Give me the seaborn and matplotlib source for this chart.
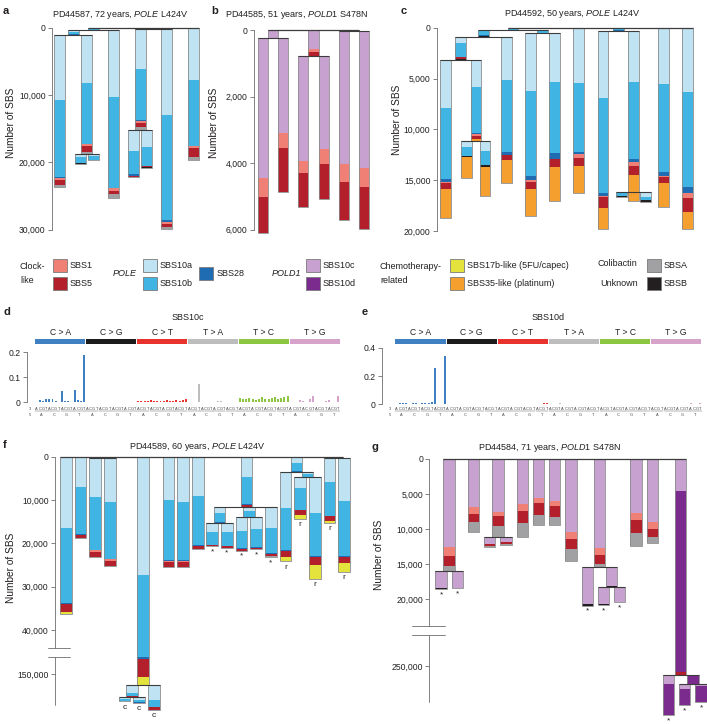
import numpy as np
import pandas as pd
import matplotlib
matplotlib.use("Agg")
import matplotlib.pyplot as plt
from matplotlib.patches import Rectangle
from matplotlib.lines import Line2D
import seaborn as sns

sns.set_theme(style="ticks")
plt.rcParams["font.family"] = ["Liberation Sans", "DejaVu Sans"]
plt.rcParams["mathtext.fontset"] = "custom"
plt.rcParams["mathtext.rm"] = "Liberation Sans"
plt.rcParams["mathtext.it"] = "Liberation Sans:italic"

# ------------------------------------------------------------------ data
SIG_ORDER = ["SBS10a", "SBS10c", "SBS10b", "SBS10d", "SBS28", "SBS1", "SBS5",
             "SBSA", "SBSB", "SBS17b", "SBS35"]
SIG_COLORS = {"SBS1": "#f07f76", "SBS5": "#b31f2b", "SBS10a": "#bfe3f3",
              "SBS10b": "#40b5e4", "SBS28": "#1f6cb2", "SBS10c": "#c7a1cf",
              "SBS10d": "#7b2b8d", "SBS17b": "#e4e23c", "SBS35": "#f5a02e",
              "SBSA": "#a1a1a3", "SBSB": "#231f20"}

# panel a : PD44587
A_NODES = ["X", "A", "a1", "a2", "a2a", "a2b", "a3", "Y", "a4", "a4a", "a4b", "a5", "a6"]
A_PARENTS = [None, "X", "A", "A", "a2", "a2", "X", None, "Y", "a4", "a4", "Y", None]
A_EXPO = {
    "SBS10a": [200, 300, 9700, 7090, 500, 300, 10070, 150, 5900, 3120, 2480, 12650, 7800],
    "SBS10b": [100, 400, 11430, 9030, 840, 600, 13500, 0, 7600, 3420, 2830, 15700, 9770],
    "SBS28":  [0, 100, 100, 100, 100, 60, 0, 100, 100, 250, 0, 200, 0],
    "SBS1":   [0, 0, 300, 250, 0, 0, 350, 0, 250, 0, 0, 300, 300],
    "SBS5":   [0, 0, 740, 890, 0, 0, 550, 0, 600, 150, 250, 500, 1340],
    "SBSA":   [0, 0, 350, 250, 0, 0, 600, 0, 500, 0, 0, 300, 500],
    "SBSB":   [0, 0, 0, 0, 50, 40, 0, 0, 0, 100, 100, 0, 0],
}

# panel b : PD44585
B_NODES = ["P", "b1", "b2", "Q", "b3", "b4", "R", "b5", "b6"]
B_PARENTS = [None, "P", "P", None, "Q", "Q", None, "R", "R"]
B_EXPO = {
    "SBS10c": [230, 4180, 2850, 580, 3150, 2800, 40, 3990, 4110],
    "SBS1":   [0, 600, 450, 70, 370, 440, 0, 520, 550],
    "SBS5":   [20, 1070, 1300, 130, 1020, 1060, 0, 1170, 1280],
}

# panel c : PD44592
C_NODES = ["Q", "P2", "P3", "c1", "c2", "c2a", "c2b", "c3", "P4", "c4", "c5", "c6",
           "R", "c7", "c8", "c8a", "c8m", "c8b", "c9", "c10"]
C_PARENTS = [None, "Q", "P2", "P3", "P3", "c2", "c2", "P2", "Q", "P4", "P4", None,
             None, "R", "R", "c8", "c8", "c8", None, None]
C_EXPO = {
    "SBS10a": [80, 150, 656, 4750, 2690, 650, 1020, 4260, 100, 5670, 4750, 5475, 0, 6650, 5020, 100, 0, 430, 5570, 6360],
    "SBS10b": [100, 330, 1377, 6950, 4460, 820, 1380, 7050, 200, 8330, 7050, 6725, 200, 9340, 7640, 230, 0, 330, 8590, 9340],
    "SBS28":  [20, 155, 0, 260, 160, 0, 0, 330, 57, 430, 590, 230, 95, 260, 300, 0, 0, 0, 390, 530],
    "SBS1":   [0, 0, 0, 100, 160, 0, 0, 0, 0, 160, 0, 420, 0, 130, 330, 0, 0, 0, 160, 560],
    "SBS5":   [0, 0, 197, 660, 330, 0, 0, 490, 0, 750, 720, 760, 0, 1080, 920, 0, 0, 0, 590, 1310],
    "SBSB":   [0, 50, 65, 0, 0, 160, 160, 0, 0, 0, 0, 0, 0, 0, 0, 100, 0, 160, 0, 0],
    "SBS35":  [0, 0, 0, 2850, 130, 2070, 2890, 2290, 0, 2590, 3380, 2620, 0, 2080, 1700, 0, 850, 0, 2360, 1700],
}

# panel f : PD44589
F_NODES = ["f1", "f2", "N34", "f3", "f4", "f5", "F5a", "ca", "cb", "cc", "f6", "f7", "f8",
           "f9", "G1", "g1a", "g1b", "G2", "g2a", "g2b", "g3", "H", "f10", "H2", "f11",
           "f12", "K", "f13", "f14"]
F_PARENTS = [None, None, None, "N34", "N34", None, "f5", "F5a", "F5a", "f5", None, None, None,
             None, "f9", "G1", "G1", "f9", "G2", "G2", "f9", None, "H", "H", "H2",
             "H2", None, "K", "K"]
F_EXPO = {
    "SBS10a": [16540, 7080, 100, 9180, 10180, 27300, 1920, 400, 600, 3460, 10000, 10380, 9000,
               4770, 1380, 2080, 2080, 850, 3080, 2770, 4850, 1380, 8150, 460, 2540,
               8310, 200, 5380, 9770],
    "SBS10b": [17310, 10770, 0, 12160, 13310, 118700, 600, 400, 500, 1540, 13800, 13470, 11380,
               6150, 1920, 3080, 3310, 1460, 4080, 4150, 5770, 1920, 9770, 540, 5000,
               9770, 0, 7850, 12690],
    "SBS28":  [230, 230, 100, 0, 0, 500, 0, 100, 100, 0, 300, 300, 300,
               230, 230, 100, 100, 0, 100, 100, 230, 300, 200, 0, 100,
               300, 200, 150, 300],
    "SBS1":   [0, 0, 0, 380, 300, 0, 0, 0, 0, 0, 200, 200, 0,
               0, 0, 0, 0, 0, 0, 0, 0, 0, 0, 0, 0,
               0, 0, 0, 0],
    "SBS5":   [1700, 770, 0, 1310, 1160, 4100, 300, 50, 50, 770, 1100, 1100, 700,
               550, 0, 230, 300, 0, 440, 280, 380, 0, 1380, 170, 1000,
               1920, 0, 1000, 1460],
    "SBSA":   [0, 0, 0, 0, 0, 0, 0, 0, 0, 0, 0, 0, 0,
               0, 0, 0, 0, 0, 0, 0, 300, 0, 0, 0, 0,
               0, 0, 0, 0],
    "SBS17b": [600, 0, 0, 0, 0, 1900, 0, 0, 0, 0, 0, 0, 0,
               0, 0, 0, 0, 0, 0, 0, 0, 0, 1080, 0, 920,
               3080, 0, 540, 1920],
}
F_MARKS = {"ca": "c", "cb": "c", "cc": "c", "g1a": "*", "g1b": "*", "g2a": "*",
           "g2b": "*", "g3": "*", "f10": "r", "f11": "r", "f12": "r", "f13": "r", "f14": "r"}

# panel g : PD44584
G_NODES = ["g1", "g1a", "g1b", "g2", "g3", "g3a", "g3b", "g4", "g5", "g6", "g7", "g8",
           "g8a", "G8n", "g8b", "g8c", "g9", "g10", "g11", "g11a", "G11n", "g11b", "g11c"]
G_PARENTS = [None, "g1", "g1", None, None, "g3", "g3", None, None, None, None, None,
             "g8", "g8", "G8n", "G8n", None, None, None, "g11", "g11", "G11n", "G11n"]
G_EXPO = {
    "SBS10c": [12620, 2480, 2380, 6900, 7520, 1090, 710, 6480, 5620, 5950, 10380, 12670,
               5380, 2760, 2430, 2190, 7760, 9050, 4570, 1280, 0, 720, 290],
    "SBS10d": [0, 0, 0, 0, 0, 0, 0, 0, 0, 0, 0, 0,
               0, 0, 0, 0, 0, 0, 246240, 4430, 1280, 2280, 2330],
    "SBS1":   [1190, 0, 0, 1000, 620, 0, 0, 900, 620, 760, 1100, 1040,
               0, 0, 0, 0, 950, 950, 0, 0, 0, 0, 0],
    "SBS5":   [1430, 0, 0, 1050, 1430, 290, 330, 1720, 1760, 1530, 1420, 1290,
               0, 0, 0, 0, 1810, 1100, 480, 0, 0, 0, 0],
    "SBSA":   [760, 0, 0, 1430, 1530, 140, 150, 2000, 1430, 1190, 1670, 380,
               0, 0, 0, 0, 1860, 950, 0, 0, 0, 0, 0],
    "SBSB":   [0, 90, 100, 0, 0, 0, 0, 0, 0, 0, 0, 0,
               190, 150, 140, 0, 0, 0, 0, 0, 0, 0, 0],
}
G_MARKS = {"g1a": "*", "g1b": "*", "g8a": "*", "g8b": "*", "g8c": "*",
           "g11a": "*", "g11b": "*", "g11c": "*"}

# mutational spectra (96 channels: class x 5' base x 3' base)
MUT_CLASSES = ["C > A", "C > G", "C > T", "T > A", "T > C", "T > G"]
CLASS_COLORS = ["#3f80c2", "#1c1c1c", "#e8322c", "#bdbdbd", "#8dc641", "#d8a3cb"]
BASES = ["A", "C", "G", "T"]
SBS10C_SPECTRUM = (
    [0.003, 0.008, 0.004, 0.012, 0.012, 0.014, 0.005, 0.003, 0.045, 0.006, 0.005, 0.002, 0.048, 0.010, 0.006, 0.190]
    + [0.001, 0.000, 0.001, 0.001, 0.000, 0.001, 0.000, 0.001, 0.001, 0.000, 0.001, 0.000, 0.001, 0.001, 0.000, 0.001]
    + [0.006, 0.004, 0.007, 0.005, 0.008, 0.006, 0.005, 0.007, 0.006, 0.008, 0.007, 0.006, 0.009, 0.007, 0.008, 0.012]
    + [0.002, 0.003, 0.002, 0.072, 0.001, 0.002, 0.003, 0.001, 0.002, 0.006, 0.004, 0.002, 0.001, 0.002, 0.003, 0.002]
    + [0.016, 0.012, 0.014, 0.018, 0.013, 0.011, 0.015, 0.020, 0.014, 0.012, 0.016, 0.022, 0.015, 0.018, 0.020, 0.024]
    + [0.001, 0.002, 0.003, 0.008, 0.007, 0.002, 0.012, 0.025, 0.001, 0.002, 0.003, 0.006, 0.008, 0.001, 0.002, 0.026]
)
SBS10D_SPECTRUM = (
    [0.005, 0.012, 0.006, 0.010, 0.004, 0.008, 0.006, 0.005, 0.010, 0.006, 0.012, 0.015, 0.260, 0.004, 0.003, 0.340]
    + [0.000, 0.001, 0.000, 0.000, 0.001, 0.000, 0.000, 0.001, 0.000, 0.000, 0.001, 0.000, 0.000, 0.001, 0.000, 0.000]
    + [0.002, 0.001, 0.002, 0.003, 0.002, 0.003, 0.002, 0.004, 0.003, 0.002, 0.004, 0.003, 0.004, 0.005, 0.006, 0.007]
    + [0.001, 0.002, 0.001, 0.010, 0.001, 0.001, 0.002, 0.001, 0.001, 0.004, 0.002, 0.001, 0.001, 0.001, 0.002, 0.001]
    + [0.002, 0.003, 0.002, 0.004, 0.003, 0.002, 0.003, 0.005, 0.002, 0.003, 0.004, 0.003, 0.002, 0.004, 0.003, 0.005]
    + [0.001, 0.002, 0.001, 0.002, 0.003, 0.001, 0.002, 0.003, 0.001, 0.001, 0.002, 0.001, 0.012, 0.001, 0.002, 0.009]
)

# ------------------------------------------------------------------ figure
W, H = 707, 724
fig = plt.figure(figsize=(W / 100, H / 100), dpi=100)
fig.patch.set_facecolor("white")
INK = "#231f20"
OUTLINE = "#8a8a8a"
LINK = "#3c3c3c"
AXC = "#6d6d6d"


def fx(px):
    return px / W


def fy(py):
    return 1 - py / H


def make_axes(x0, x1, y0, y1):
    ax = fig.add_axes([fx(x0), fy(y1), (x1 - x0) / W, (y1 - y0) / H])
    ax.patch.set_visible(False)
    return ax


def ftext(x, y, s, **kw):
    kw.setdefault("fontsize", 6.5)
    kw.setdefault("color", INK)
    return fig.text(fx(x), fy(y), s, **kw)


def make_break(b1, b2, gap):
    def f(v):
        v = float(v)
        if v <= b1:
            return v
        if v >= b2:
            return v - b2 + b1 + gap
        return b1 + (v - b1) / (b2 - b1) * gap
    return f


def ident(v):
    return float(v)


def draw_tree(ax, nodes, parents, expo, compact, marks, fwd, bar_w, comp_w):
    children = {n: [] for n in nodes}
    roots = []
    for n, p in zip(nodes, parents):
        if p is None:
            roots.append(n)
        else:
            children[p].append(n)
    pos, width, cur = {}, {}, [0.0]

    def place(n, w, bw):
        width[n] = bw
        if not children[n]:
            pos[n] = cur[0] + w / 2
            cur[0] += w
        else:
            cw = compact.get(n)
            for c in children[n]:
                if cw:
                    place(c, cw, comp_w)
                else:
                    place(c, 1.0, bar_w)
            pos[n] = float(np.mean([pos[c] for c in children[n]]))

    for r in roots:
        place(r, 1.0, bar_w)

    start, end = {}, {}
    for i, (n, p) in enumerate(zip(nodes, parents)):
        s = 0.0 if p is None else end[p]
        start[n] = s
        y = s
        for sig in SIG_ORDER:
            if sig not in expo:
                continue
            v = expo[sig][i]
            if v <= 0:
                continue
            y0, y1 = fwd(y), fwd(y + v)
            ax.bar(pos[n], y1 - y0, bottom=y0, width=width[n], color=SIG_COLORS[sig],
                   linewidth=0, zorder=2, clip_on=False)
            y += v
        end[n] = y
        ax.bar(pos[n], fwd(y) - fwd(s), bottom=fwd(s), width=width[n], fill=False,
               edgecolor=OUTLINE, linewidth=0.6, zorder=3, clip_on=False)
    for n in nodes:
        if children[n]:
            xl = min(pos[c] - width[c] / 2 for c in children[n])
            xr = max(pos[c] + width[c] / 2 for c in children[n])
            yy = fwd(end[n])
            ax.plot([xl, xr], [yy, yy], color=LINK, lw=0.8, zorder=4, clip_on=False,
                    solid_capstyle="butt")
    xl = min(pos[r] - width[r] / 2 for r in roots)
    xr = max(pos[r] + width[r] / 2 for r in roots)
    ax.plot([xl, xr], [0, 0], color=LINK, lw=0.9, zorder=4, clip_on=False,
            solid_capstyle="butt")
    for n, m in marks.items():
        ax.annotate(m, (pos[n], fwd(end[n])), xytext=(0, -1.5), textcoords="offset points",
                    ha="center", va="top", fontsize=6, color=INK, annotation_clip=False)


def tree_panel(box, xmap, ymap, nodes, parents, expo, compact, marks, fwd, bar_w, comp_w,
               ticks, tick_labels, spine_top, spine_bottom, brk=None):
    x0, x1, y0, y1 = box
    xpx0, xscale = xmap
    ypx0, yscale = ymap
    ax = make_axes(x0, x1, y0, y1)
    draw_tree(ax, nodes, parents, expo, compact, marks, fwd, bar_w, comp_w)
    ax.set_xlim((x0 - xpx0) / xscale, (x1 - xpx0) / xscale)
    ax.set_ylim((y1 - ypx0) / yscale, (y0 - ypx0) / yscale)
    for side in ["top", "right", "bottom"]:
        ax.spines[side].set_visible(False)
    ax.tick_params(axis="x", bottom=False, labelbottom=False)
    ax.set_yticks([fwd(t) for t in ticks])
    ax.set_yticklabels(tick_labels)
    ax.tick_params(axis="y", direction="out", length=3, width=0.6, color=AXC,
                   labelsize=6.2, pad=1.5, labelcolor=INK)
    ax.grid(False)
    if brk is None:
        ax.spines["left"].set_bounds(spine_top, spine_bottom)
        ax.spines["left"].set_color(AXC)
        ax.spines["left"].set_linewidth(0.6)
    else:
        ax.spines["left"].set_visible(False)
        b_up, b_low, dx_left, dx_right = brk
        xs = ax.get_xlim()[0]
        ax.plot([xs, xs], [spine_top, b_up], color=AXC, lw=0.6, clip_on=False)
        ax.plot([xs, xs], [b_low, spine_bottom], color=AXC, lw=0.6, clip_on=False)
        xa, xb = xs - dx_left / xscale, xs + dx_right / xscale
        for yb in (b_up, b_low):
            ax.plot([xa, xb], [yb, yb], color=AXC, lw=0.6, clip_on=False)
    return ax


# ---- panel a
tree_panel((52, 200, 20, 240), (46.6, 26.75), (27.7, 0.00673),
           A_NODES, A_PARENTS, A_EXPO, {"a2": 0.5, "a4": 0.5}, {}, ident, 0.41, 0.41,
           [0, 10000, 20000, 30000], ["0", "10,000", "20,000", "30,000"], 0, 30000)
# ---- panel b
tree_panel((254, 372, 22, 240), (252.9, 20.2), (30.0, 0.0333),
           B_NODES, B_PARENTS, B_EXPO, {}, {}, ident, 0.5, 0.5,
           [0, 2000, 4000, 6000], ["0", "2,000", "4,000", "6,000"], 0, 6000)
# ---- panel c
tree_panel((436.7, 702, 20, 240), (433.6, 24.2), (27.7, 0.01016),
           C_NODES, C_PARENTS, C_EXPO, {"c2": 0.75, "c8": 0.5}, {}, ident, 0.45, 0.45,
           [0, 5000, 10000, 15000, 20000], ["0", "5,000", "10,000", "15,000", "20,000"],
           0, 20000)
# ---- panel f (broken axis)
f_fwd = make_break(44200, 145920, 1940)
tree_panel((55, 356, 450, 722), (58.7, 14.63), (456.7, 0.004333),
           F_NODES, F_PARENTS, F_EXPO, {}, F_MARKS, f_fwd, 0.8, 0.8,
           [0, 10000, 20000, 30000, 40000, 150000],
           ["0", "10,000", "20,000", "30,000", "40,000", "150,000"],
           0, 57300, brk=(44200, 46140, 7, 15))
# ---- panel g (broken axis)
g_fwd = make_break(23900, 245570, 1243)
tree_panel((429.3, 707, 452, 722), (432.9, 16.25), (459.0, 0.007),
           G_NODES, G_PARENTS, G_EXPO, {}, G_MARKS, g_fwd, 0.7, 0.7,
           [0, 5000, 10000, 15000, 20000, 250000],
           ["0", "5,000", "10,000", "15,000", "20,000", "250,000"],
           0, 34670, brk=(23900, 25143, 17.6, 15.7))


# ---- spectra
def spectrum_panel(box, zero_px, px_per_unit, first_c, step, values, ticks, labels, title):
    x0, x1, y0, y1 = box
    ax = make_axes(x0, x1, y0, y1)
    df = pd.DataFrame({"idx": np.arange(96), "val": values,
                       "cls": np.repeat(MUT_CLASSES, 16)})
    sns.barplot(data=df, x="idx", y="val", hue="cls",
                palette=dict(zip(MUT_CLASSES, CLASS_COLORS)), dodge=False, width=0.62,
                legend=False, ax=ax, saturation=1, errorbar=None, linewidth=0)
    ax.set_xlim((x0 - first_c) / step, (x1 - first_c) / step)
    ax.set_ylim(-(y1 - zero_px) / px_per_unit, (zero_px - y0) / px_per_unit)
    ax.set_xlabel("")
    ax.set_ylabel("")
    ax.set_xticks([])
    for side in ["top", "right", "bottom"]:
        ax.spines[side].set_visible(False)
    ax.spines["left"].set_bounds(0, ticks[-1])
    ax.spines["left"].set_color(AXC)
    ax.spines["left"].set_linewidth(0.6)
    ax.set_yticks(ticks)
    ax.set_yticklabels(labels)
    ax.tick_params(axis="y", direction="out", length=3, width=0.6, color=AXC,
                   labelsize=6.2, pad=1.5, labelcolor=INK)
    ax.grid(False)
    # header bands + class labels
    for k, (cls, col) in enumerate(zip(MUT_CLASSES, CLASS_COLORS)):
        xa = first_c + (16 * k - 0.5) * step + 0.4
        xb = first_c + (16 * k + 15.5) * step - 0.4
        fig.add_artist(Rectangle((fx(xa), fy(344.2)), (xb - xa) / W, 5.0 / H,
                                 transform=fig.transFigure, facecolor=col, edgecolor="none"))
        ftext((xa + xb) / 2, 332, cls, ha="center", va="center", fontsize=6.2)
    ftext((first_c + 47.5 * step), 317, title, ha="center", va="center", fontsize=6.5)
    # trinucleotide context labels
    for i in range(96):
        ftext(first_c + i * step, 408.6, BASES[i % 4], ha="center", va="center",
              fontsize=2.9, color="#4a4a4a")
    for g in range(24):
        xa = first_c + (4 * g - 0.45) * step
        xb = first_c + (4 * g + 3.45) * step
        fig.add_artist(Line2D([fx(xa), fx(xb)], [fy(411.2), fy(411.2)],
                              transform=fig.transFigure, color="#6a6a6a", lw=0.35))
        ftext(first_c + (4 * g + 1.5) * step, 415.2, BASES[g % 4], ha="center",
              va="center", fontsize=2.9, color="#4a4a4a")
    ftext(first_c - 6.5, 408.6, "3'", ha="center", va="center", fontsize=2.9, color="#4a4a4a")
    ftext(first_c - 6.5, 415.2, "5'", ha="center", va="center", fontsize=2.9, color="#4a4a4a")
    return ax


spectrum_panel((27, 343, 345, 406), 402.3, 250.0, 36.6, 3.177, SBS10C_SPECTRUM,
               [0, 0.1, 0.2], ["0", "0.1", "0.2"], "SBS10c")
spectrum_panel((382, 705, 342, 407), 404.3, 141.5, 396.6, 3.195, SBS10D_SPECTRUM,
               [0, 0.2, 0.4], ["0", "0.2", "0.4"], "SBS10d")

# ---- titles, panel letters, axis labels
ftext(120, 15, r"PD44587, 72 years, $\it{POLE}$ L424V", ha="center", va="center")
ftext(296, 15, r"PD44585, 51 years, $\it{POLD1}$ S478N", ha="center", va="center")
ftext(572, 14, r"PD44592, 50 years, $\it{POLE}$ L424V", ha="center", va="center")
ftext(197, 447, r"PD44589, 60 years, $\it{POLE}$ L424V", ha="center", va="center")
ftext(549, 448, r"PD44584, 71 years, $\it{POLD1}$ S478N", ha="center", va="center")
for letter, (lx, ly) in {"a": (3, 11), "b": (211, 11), "c": (401, 11), "d": (3, 312),
                         "e": (362, 312), "f": (3, 445), "g": (372, 447)}.items():
    ftext(lx, ly, letter, ha="left", va="center", fontsize=8, fontweight="bold")
for lx, ly in [(11, 123), (214, 123), (397, 120), (11, 568), (379, 555)]:
    ftext(lx, ly, "Number of SBS", ha="center", va="center", rotation=90, fontsize=7.3)

# ---- legend
LEG_ROW1, LEG_ROW2, LEG_MID = 265.0, 283.5, 273.5
SW = 14.0


def swatch(x, yc, sig, label):
    fig.add_artist(Rectangle((fx(x), fy(yc + 6.5)), SW / W, 13.0 / H,
                             transform=fig.transFigure, facecolor=SIG_COLORS[sig],
                             edgecolor="#7a7a7a", lw=0.6))
    ftext(x + SW + 3.5, yc, label, ha="left", va="center")


ftext(20, LEG_MID, "Clock-\nlike", ha="left", va="center", linespacing=1.6)
swatch(52.5, LEG_ROW1, "SBS1", "SBS1")
swatch(52.5, LEG_ROW2, "SBS5", "SBS5")
ftext(113, LEG_MID, "POLE", ha="left", va="center", style="italic")
swatch(142.5, LEG_ROW1, "SBS10a", "SBS10a")
swatch(142.5, LEG_ROW2, "SBS10b", "SBS10b")
swatch(199.5, LEG_MID, "SBS28", "SBS28")
ftext(271.5, LEG_MID, "POLD1", ha="left", va="center", style="italic")
swatch(305.5, LEG_ROW1, "SBS10c", "SBS10c")
swatch(305.5, LEG_ROW2, "SBS10d", "SBS10d")
ftext(380, LEG_MID, "Chemotherapy-\nrelated", ha="left", va="center", linespacing=1.6)
swatch(449.5, LEG_ROW1, "SBS17b", "SBS17b-like (5FU/capec)")
swatch(449.5, LEG_ROW2, "SBS35", "SBS35-like (platinum)")
ftext(598, LEG_ROW1 - 1, "Colibactin", ha="left", va="center")
ftext(600.5, LEG_ROW2, "Unknown", ha="left", va="center")
swatch(646.5, LEG_ROW1, "SBSA", "SBSA")
swatch(646.5, LEG_ROW2, "SBSB", "SBSB")

fig.savefig("out.png", dpi=100, facecolor="white")
